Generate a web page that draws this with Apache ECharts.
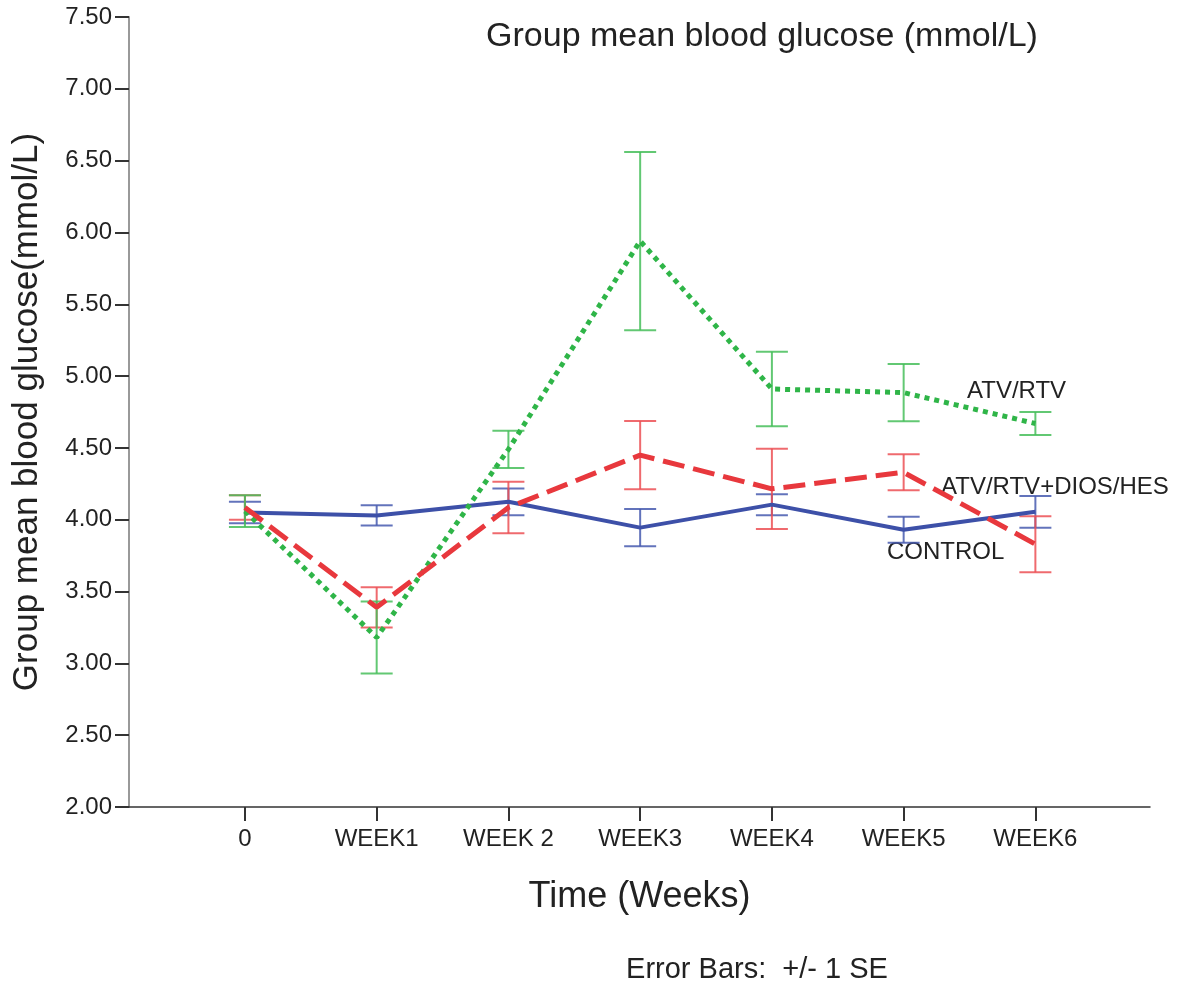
<!DOCTYPE html>
<html>
<head>
<meta charset="utf-8">
<title>Group mean blood glucose</title>
<script src="https://cdn.jsdelivr.net/npm/echarts@6/dist/echarts.min.js"></script>
<style>
    html, body { margin: 0; padding: 0; background: #fff; }
    #chart { width: 1177px; height: 987px; }
</style>
</head>
<body>
<div id="chart"></div>
<script>
// 横轴类别（按位置 0..6 排列）
var weeks = ["0", "WEEK1", "WEEK 2", "WEEK3", "WEEK4", "WEEK5", "WEEK6"];
var weekPos = [0, 1, 2, 3, 4, 5, 6];

// 各组均值与标准误（mmol/L）
var controlMean = [4.05, 4.03, 4.125, 3.945, 4.105, 3.93, 4.055];
var controlSE = [0.075, 0.07, 0.093, 0.13, 0.073, 0.09, 0.11];

var diosMean = [4.085, 3.39, 4.085, 4.45, 4.215, 4.33, 3.83];
var diosSE = [0.085, 0.14, 0.18, 0.237, 0.28, 0.125, 0.195];

var atvMean = [4.06, 3.18, 4.49, 5.94, 4.91, 4.885, 4.67];
var atvSE = [0.11, 0.25, 0.13, 0.62, 0.26, 0.2, 0.08];

// 纵轴范围
var yTicks = [2, 7.5, 0.5];

var FONT = "'Liberation Sans', Arial, sans-serif";

// 把均值数组和位置拼成 [x, y]
function toPoints(means) {
    var arr = [];
    for (var i = 0; i < means.length; i++) {
        arr.push([weekPos[i], means[i]]);
    }
    return arr;
}

// 误差线数据 [x, 下限, 上限]
function toErrData(means, se) {
    var arr = [];
    for (var i = 0; i < means.length; i++) {
        arr.push([weekPos[i], means[i] - se[i], means[i] + se[i]]);
    }
    return arr;
}

// 画误差线：竖线 + 上下两个横帽
function errorBar(color, z) {
    return {
        type: "custom",
        z: z,
        renderItem: function (params, api) {
            var x = api.value(0);
            var lo = api.coord([x, api.value(1)]);
            var hi = api.coord([x, api.value(2)]);
            var half = 16;
            var style = { stroke: color, lineWidth: 2 };
            return {
                type: "group",
                children: [
                    { type: "line", shape: { x1: lo[0], y1: lo[1], x2: hi[0], y2: hi[1] }, style: style },
                    { type: "line", shape: { x1: lo[0] - half, y1: lo[1], x2: lo[0] + half, y2: lo[1] }, style: style },
                    { type: "line", shape: { x1: hi[0] - half, y1: hi[1], x2: hi[0] + half, y2: hi[1] }, style: style }
                ]
            };
        },
        encode: { x: 0, y: [1, 2] },
        silent: true
    };
}

function lineSeries(name, means, color, width, dash, z) {
    return {
        name: name,
        type: "line",
        data: toPoints(means),
        symbol: "none",
        z: z,
        lineStyle: { color: color, width: width, type: dash },
        silent: true
    };
}

var chart = echarts.init(document.getElementById("chart"));

var ctrlErr = errorBar("rgba(70,90,175,0.85)", 2);
ctrlErr.data = toErrData(controlMean, controlSE);
var diosErr = errorBar("rgba(236,80,85,0.85)", 2);
diosErr.data = toErrData(diosMean, diosSE);
var atvErr = errorBar("rgba(70,190,90,0.85)", 2);
atvErr.data = toErrData(atvMean, atvSE);

chart.setOption({
    animation: false,
    grid: { left: 129, right: 27, top: 17, bottom: 180 },
    xAxis: {
        type: "value",
        min: -0.88,
        max: 6.87,
        name: "Time (Weeks)",
        nameLocation: "middle",
        nameGap: 72,
        nameTextStyle: { fontFamily: FONT, fontSize: 36, color: "#222" },
        axisLine: { onZero: false, lineStyle: { color: "#333", width: 1.5 } },
        axisTick: { show: true, length: 14, customValues: weekPos, lineStyle: { color: "#333", width: 2 } },
        axisLabel: {
            customValues: weekPos,
            margin: 20,
            fontFamily: FONT,
            fontSize: 24,
            color: "#222",
            formatter: function (v) { return weeks[Math.round(v)]; }
        },
        splitLine: { show: false }
    },
    yAxis: {
        type: "value",
        min: yTicks[0],
        max: yTicks[1],
        interval: yTicks[2],
        name: "Group mean blood glucose(mmol/L)",
        nameLocation: "middle",
        nameGap: 84,
        nameTextStyle: { fontFamily: FONT, fontSize: 35, color: "#222" },
        axisLine: { show: true, onZero: false, lineStyle: { color: "#999", width: 2 } },
        axisTick: { show: true, length: 14, lineStyle: { color: "#333", width: 2 } },
        axisLabel: {
            margin: 17,
            fontFamily: FONT,
            fontSize: 24,
            color: "#222",
            formatter: function (v) { return v.toFixed(2); }
        },
        splitLine: { show: false }
    },
    series: [
        ctrlErr,
        diosErr,
        atvErr,
        lineSeries("CONTROL", controlMean, "#3d50a8", 4, "solid", 3),
        lineSeries("ATV/RTV", atvMean, "#2fb548", 5, [5, 5], 4),
        lineSeries("ATV/RTV+DIOS/HES", diosMean, "#e8383d", 5, [22, 9], 5)
    ],
    graphic: [
        { type: "text", x: 762, y: 37, style: { text: "Group mean blood glucose (mmol/L)", align: "center", verticalAlign: "middle", fontFamily: FONT, fontSize: 34, fill: "#222" } },
        { type: "text", x: 967, y: 391, style: { text: "ATV/RTV", align: "left", verticalAlign: "middle", fontFamily: FONT, fontSize: 24, fill: "#222" } },
        { type: "text", x: 941, y: 487, style: { text: "ATV/RTV+DIOS/HES", align: "left", verticalAlign: "middle", fontFamily: FONT, fontSize: 24, fill: "#222" } },
        { type: "text", x: 887, y: 552, style: { text: "CONTROL", align: "left", verticalAlign: "middle", fontFamily: FONT, fontSize: 24, fill: "#222" } },
        { type: "text", x: 757, y: 970, style: { text: "Error Bars:  +/- 1 SE", align: "center", verticalAlign: "middle", fontFamily: FONT, fontSize: 29, fill: "#222" } }
    ]
});
</script>
</body>
</html>
